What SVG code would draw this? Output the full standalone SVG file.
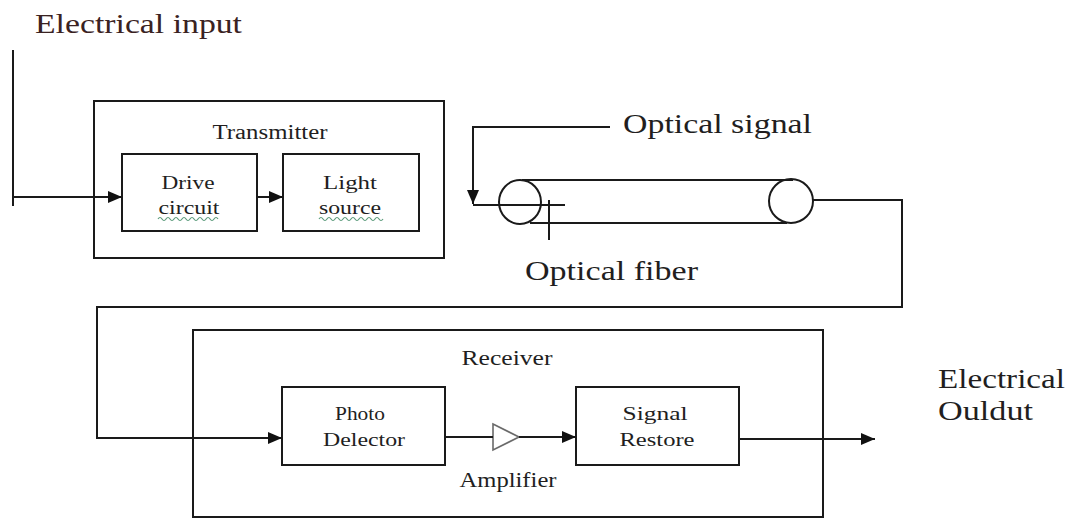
<svg xmlns="http://www.w3.org/2000/svg" width="1073" height="520" viewBox="0 0 1073 520">
<style>
  .ln{fill:none;stroke:#1a1a1a;stroke-width:2}
  .box{fill:#fff;stroke:#1a1a1a;stroke-width:2}
  text{font-family:'Liberation Serif','DejaVu Serif',serif;fill:#221e1e}
  .big{font-size:27px}
  .mid{font-size:20px}
  .sm{font-size:19px}
  .sq{fill:none;stroke:#5a9a7a;stroke-width:1.2}
</style>
<defs>
  <marker id="ah" viewBox="0 0 14 12" refX="14" refY="6" markerWidth="14" markerHeight="12" markerUnits="userSpaceOnUse" orient="auto">
    <path d="M0,0 L14,6 L0,12 Z" fill="#111"/>
  </marker>
</defs>
<rect width="1073" height="520" fill="#fff"/>

<g id="transmitter">
  <rect class="box" x="94" y="101" width="350" height="157"/>
  <text class="mid" x="270" y="139" text-anchor="middle" textLength="115" lengthAdjust="spacingAndGlyphs">Transmitter</text>
</g>
<g id="drive-circuit">
  <rect class="box" x="122" y="154" width="135" height="77"/>
  <text class="sm" x="188" y="189" text-anchor="middle" textLength="53" lengthAdjust="spacingAndGlyphs">Drive</text>
  <text class="sm" x="189" y="214" text-anchor="middle" textLength="61" lengthAdjust="spacingAndGlyphs">circuit</text>
  <path class="sq" d="M158,219 q2,-3 4,0 t4,0 t4,0 t4,0 t4,0 t4,0 t4,0 t4,0 t4,0 t4,0 t4,0 t4,0 t4,0 t4,0 t4,0"/>
</g>
<g id="light-source">
  <rect class="box" x="283" y="154" width="136" height="77"/>
  <text class="sm" x="350" y="189" text-anchor="middle" textLength="54" lengthAdjust="spacingAndGlyphs">Light</text>
  <text class="sm" x="350" y="214" text-anchor="middle" textLength="62" lengthAdjust="spacingAndGlyphs">source</text>
  <path class="sq" d="M319,219 q2,-3 4,0 t4,0 t4,0 t4,0 t4,0 t4,0 t4,0 t4,0 t4,0 t4,0 t4,0 t4,0 t4,0 t4,0 t4,0 t4,0"/>
</g>
<g id="optical-fiber">
  <ellipse class="ln" cx="520" cy="202" rx="21" ry="22"/>
  <ellipse class="ln" cx="791" cy="201" rx="22" ry="22"/>
  <line class="ln" x1="522" y1="180" x2="793" y2="180"/>
  <line class="ln" x1="530" y1="223" x2="787" y2="223"/>
</g>
<g id="receiver">
  <rect class="ln" x="193" y="330" width="630" height="187"/>
  <text class="mid" x="507" y="365" text-anchor="middle" textLength="91" lengthAdjust="spacingAndGlyphs">Receiver</text>
</g>
<g id="photo-detector">
  <rect class="box" x="282" y="387" width="163" height="78"/>
  <text class="sm" x="360" y="420" text-anchor="middle" textLength="50" lengthAdjust="spacingAndGlyphs">Photo</text>
  <text class="sm" x="364" y="446" text-anchor="middle" textLength="82" lengthAdjust="spacingAndGlyphs">Delector</text>
</g>
<g id="amplifier">
  <path d="M493,424 L519,437 L493,450 Z" fill="#fff" stroke="#6a6a6a" stroke-width="1.6"/>
  <text class="mid" x="508" y="487" text-anchor="middle" textLength="97" lengthAdjust="spacingAndGlyphs">Amplifier</text>
</g>
<g id="signal-restore">
  <rect class="box" x="576" y="387" width="163" height="78"/>
  <text class="sm" x="655" y="420" text-anchor="middle" textLength="65" lengthAdjust="spacingAndGlyphs">Signal</text>
  <text class="sm" x="657" y="446" text-anchor="middle" textLength="75" lengthAdjust="spacingAndGlyphs">Restore</text>
</g>
<g id="labels">
  <text class="big" x="35" y="33" textLength="207" lengthAdjust="spacingAndGlyphs" style="fill:#3a2222">Electrical input</text>
  <text class="big" x="623" y="133" textLength="189" lengthAdjust="spacingAndGlyphs">Optical signal</text>
  <text class="big" x="525" y="280" textLength="173" lengthAdjust="spacingAndGlyphs">Optical fiber</text>
  <text class="big" x="938" y="388" textLength="127" lengthAdjust="spacingAndGlyphs">Electrical</text>
  <text class="big" x="938" y="420" textLength="95" lengthAdjust="spacingAndGlyphs">Ouldut</text>
</g>
<g id="connectors">
  <line class="ln" x1="13" y1="50" x2="13" y2="206"/>
  <line class="ln" x1="13" y1="197" x2="122" y2="197" marker-end="url(#ah)"/>
  <line class="ln" x1="257" y1="197" x2="283" y2="197" marker-end="url(#ah)"/>
  <polyline class="ln" points="610,127 473,127 473,204" marker-end="url(#ah)"/>
  <line class="ln" x1="473" y1="205" x2="565" y2="205"/>
  <line class="ln" x1="549" y1="200" x2="549" y2="240"/>
  <polyline class="ln" points="813,200 902,200 902,307 97,307 97,438 282,438" marker-end="url(#ah)"/>
  <line class="ln" x1="445" y1="437" x2="493" y2="437"/>
  <line class="ln" x1="519" y1="437" x2="576" y2="437" marker-end="url(#ah)"/>
  <line class="ln" x1="739" y1="439" x2="875" y2="439" marker-end="url(#ah)"/>
</g>
</svg>
